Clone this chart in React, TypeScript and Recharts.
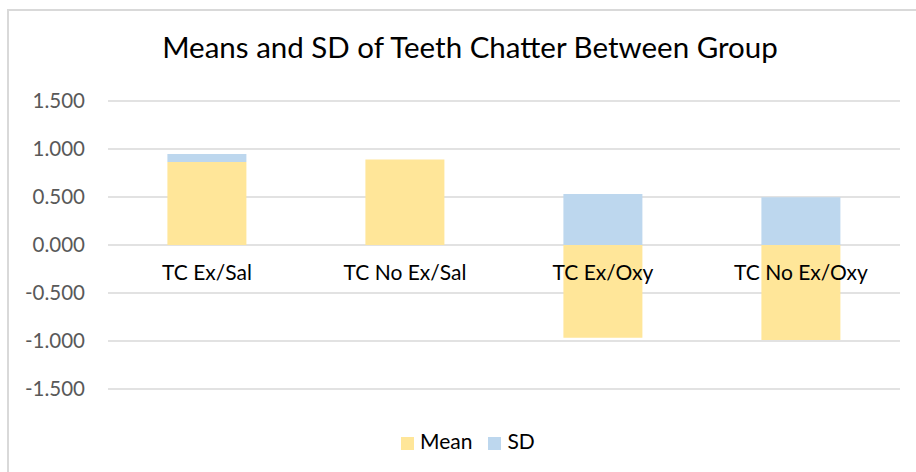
import {Bar, BarChart, CartesianGrid, Legend, ReferenceDot, XAxis, YAxis} from "recharts";

const groups = ["TC Ex/Sal", "TC No Ex/Sal", "TC Ex/Oxy", "TC No Ex/Oxy"];
const means = [0.865, 0.89, -0.966, -0.99];
const sds = [0.083, 0, 0.53, 0.497];
const yTicks = [-1.5, -1, -0.5, 0, 0.5, 1, 1.5];

const data = groups.map((group, i) => ({group, Mean: means[i], SD: sds[i]}));

const FONT = "Lato, 'Open Sans', sans-serif";

export default function App() {
  return (
    <div style={{position: "fixed", left: 0, top: 0, width: 916, height: 472, background: "#fff", overflow: "hidden", fontFamily: FONT}}>
      <div style={{position: "absolute", left: 7, top: 9, width: 1000, height: 600, borderLeft: "2px solid #d9d9d9", borderTop: "2px solid #d9d9d9"}} />
      <div style={{position: "absolute", left: 0, width: 940, top: 29, textAlign: "center", fontSize: 29.5, color: "#000"}}>
        Means and SD of Teeth Chatter Between Group
      </div>
      <BarChart
        width={916}
        height={472}
        data={data}
        stackOffset="sign"
        barCategoryGap="30%"
        margin={{top: 101, right: 16, bottom: 58, left: 20}}
      >
        <CartesianGrid vertical={false} stroke="#d9d9d9" strokeWidth={1.5} />
        <XAxis dataKey="group" hide />
        <YAxis
          width={88}
          domain={[-1.5, 1.5]}
          ticks={yTicks}
          tickFormatter={(v: number) => v.toFixed(3)}
          axisLine={false}
          tickLine={false}
          tickMargin={17}
          tick={{fill: "#595959", fontSize: 20.5, fontFamily: FONT}}
        />
        <Legend
          iconType="square"
          iconSize={13}
          wrapperStyle={{left: 401, top: 428, width: "auto", fontSize: 21, fontFamily: FONT}}
          formatter={(value: string) => <span style={{color: "#000", marginLeft: 2, marginRight: 6}}>{value}</span>}
        />
        <Bar dataKey="Mean" stackId="a" fill="#ffe699" isAnimationActive={false} />
        <Bar dataKey="SD" stackId="a" fill="#bdd7ee" isAnimationActive={false} />
        {groups.map((g) => (
          <ReferenceDot
            key={g}
            x={g}
            y={0}
            r={0}
            fill="none"
            stroke="none"
            label={{value: g, position: "bottom", offset: 20, fill: "#000", fontSize: 21, fontFamily: FONT}}
          />
        ))}
      </BarChart>
    </div>
  );
}
